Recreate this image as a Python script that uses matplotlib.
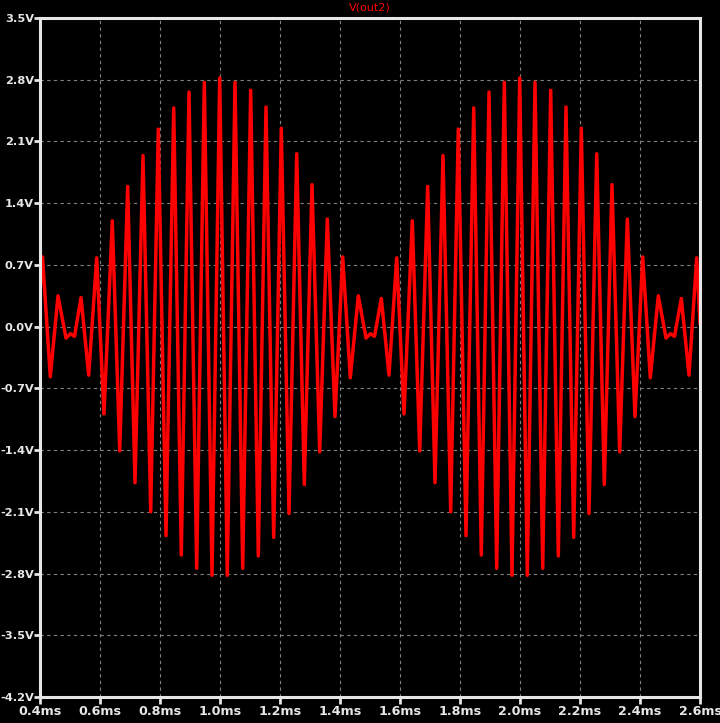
import matplotlib
matplotlib.use('Agg')
import matplotlib.pyplot as plt
from matplotlib.ticker import FixedLocator

# extrema of V(out2), time in ms, value in volts
time_ms = [
    0.4000, 0.4083, 0.4343, 0.4600, 0.4867, 0.5017, 0.5150, 0.5367, 0.5623,
    0.5890, 0.6133, 0.6410, 0.6657, 0.6923, 0.7167, 0.7433, 0.7690, 0.7943,
    0.8200, 0.8457, 0.8710, 0.8967, 0.9223, 0.9477, 0.9733, 0.9990, 1.0243,
    1.0500, 1.0757, 1.1023, 1.1277, 1.1533, 1.1790, 1.2043, 1.2300, 1.2557,
    1.2810, 1.3067, 1.3323, 1.3577, 1.3833, 1.4090, 1.4343, 1.4610, 1.4867,
    1.5017, 1.5150, 1.5377, 1.5633, 1.5890, 1.6133, 1.6410, 1.6657, 1.6923,
    1.7167, 1.7433, 1.7690, 1.7943, 1.8200, 1.8457, 1.8710, 1.8967, 1.9223,
    1.9477, 1.9733, 1.9990, 2.0243, 2.0500, 2.0757, 2.1023, 2.1277, 2.1533,
    2.1790, 2.2043, 2.2300, 2.2557, 2.2810, 2.3067, 2.3323, 2.3577, 2.3833,
    2.4090, 2.4343, 2.4610, 2.4867, 2.5017, 2.5150, 2.5377, 2.5633, 2.5890,
    2.6000,
]
volts = [
    0.41, 0.79, -0.57, 0.35, -0.13, -0.08, -0.11, 0.33, -0.55,
    0.78, -0.99, 1.20, -1.41, 1.59, -1.77, 1.94, -2.10, 2.24,
    -2.37, 2.48, -2.59, 2.66, -2.74, 2.77, -2.82, 2.82, -2.82,
    2.77, -2.74, 2.68, -2.60, 2.49, -2.39, 2.25, -2.12, 1.96,
    -1.79, 1.61, -1.42, 1.22, -1.02, 0.79, -0.58, 0.35, -0.13,
    -0.08, -0.11, 0.32, -0.55, 0.78, -0.99, 1.20, -1.41, 1.59,
    -1.77, 1.94, -2.10, 2.24, -2.37, 2.48, -2.59, 2.66, -2.74,
    2.77, -2.82, 2.82, -2.82, 2.77, -2.74, 2.68, -2.60, 2.49,
    -2.39, 2.25, -2.12, 1.96, -1.79, 1.61, -1.42, 1.22, -1.02,
    0.79, -0.58, 0.35, -0.13, -0.08, -0.11, 0.32, -0.55, 0.78,
    0.04,
]

x_ticks = [0.4, 0.6, 0.8, 1.0, 1.2, 1.4, 1.6, 1.8, 2.0, 2.2, 2.4, 2.6]
y_ticks = [-4.2, -3.5, -2.8, -2.1, -1.4, -0.7, 0.0, 0.7, 1.4, 2.1, 2.8, 3.5]

fg = '#e6e6e6'

fig = plt.figure(figsize=(7.2, 7.23), dpi=100, facecolor='black')
ax = fig.add_axes([40 / 720, 26 / 723, 660 / 720, 679 / 723], facecolor='black')

ax.plot(time_ms, volts, color='#ff0000', lw=2.5, solid_joinstyle='round')

ax.set_xlim(0.4, 2.6)
ax.set_ylim(-4.2, 3.5)
ax.xaxis.set_major_locator(FixedLocator(x_ticks))
ax.yaxis.set_major_locator(FixedLocator(y_ticks))
ax.set_xticklabels(['%.1fms' % t for t in x_ticks])
ax.set_yticklabels(['%.1fV' % v for v in y_ticks])

ax.grid(True, color='#808080', lw=0.8, ls=(0, (3, 3)))
for s in ax.spines.values():
    s.set_color(fg)
    s.set_linewidth(2.2)
ax.tick_params(axis='x', colors=fg, length=5, width=2, pad=1)
ax.tick_params(axis='y', colors=fg, length=4, width=2, pad=0.5)
for lab in ax.get_xticklabels():
    lab.set_fontsize(9.2)
    lab.set_fontweight('bold')
for lab in ax.get_yticklabels():
    lab.set_fontsize(8.2)
    lab.set_fontweight('bold')

fig.text(370 / 720, 1 - 8 / 723, 'V(out2)', color='#ff0000', fontsize=8,
         ha='center', va='center')

fig.savefig('out.png', dpi=100, facecolor='black')
